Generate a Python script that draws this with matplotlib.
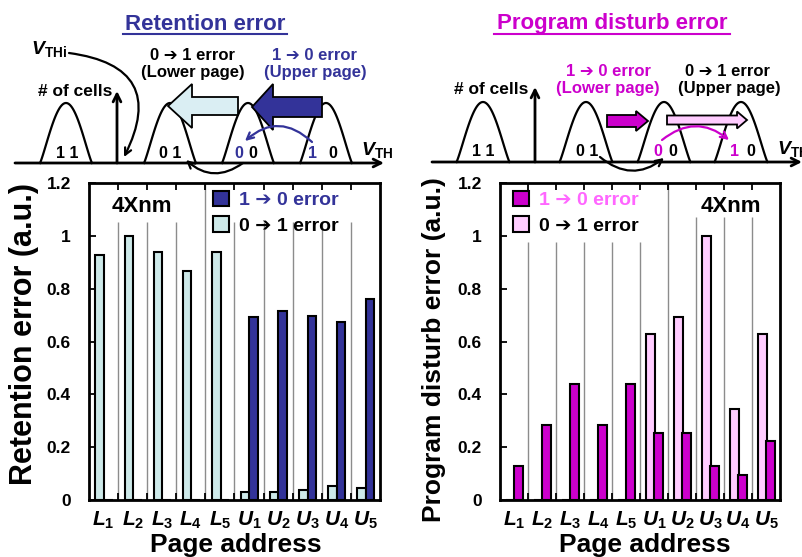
import numpy as np
import matplotlib.pyplot as plt
from matplotlib.patches import Polygon, Patch

plt.rcParams['font.family'] = ['Liberation Sans', 'DejaVu Sans']
plt.rcParams['font.weight'] = 'bold'
plt.rcParams['mathtext.fontset'] = 'custom'
plt.rcParams['mathtext.it'] = 'Liberation Sans:italic:bold'
plt.rcParams['mathtext.rm'] = 'Liberation Sans:bold'
plt.rcParams['mathtext.bf'] = 'Liberation Sans:bold'

# ---- colours ----
NAVY = "#333399"
LIGHT = "#cde9e9"
MAG = "#cc00cc"
PINK = "#ffccff"
PINK_TXT = "#ff66ff"
GRID = "#8c8c8c"
ARR = "\u2794"  # heavy arrow, falls back to DejaVu Sans

# ---- data ----
pages = ["L1", "L2", "L3", "L4", "L5", "U1", "U2", "U3", "U4", "U5"]
page_labels = [r"$L_1$", r"$L_2$", r"$L_3$", r"$L_4$", r"$L_5$",
               r"$U_1$", r"$U_2$", r"$U_3$", r"$U_4$", r"$U_5$"]
ret_1to0 = [0, 0, 0, 0, 0, 0.694, 0.716, 0.698, 0.675, 0.759]
ret_0to1 = [0.926, 1.0, 0.937, 0.865, 0.937, 0.030, 0.030, 0.037, 0.053, 0.045]
pd_1to0 = [0.128, 0.284, 0.440, 0.284, 0.440, 0.252, 0.252, 0.128, 0.096, 0.223]
pd_0to1 = [0, 0, 0, 0, 0, 0.630, 0.693, 1.0, 0.345, 0.630]
yticks = [0, 0.2, 0.4, 0.6, 0.8, 1.0, 1.2]
ytick_labels = ["0", "0.2", "0.4", "0.6", "0.8", "1", "1.2"]

W, H = 803, 557
fig = plt.figure(figsize=(W / 100, H / 100), dpi=100)

# overlay in pixel coordinates for the schematic sketches
ov = fig.add_axes([0, 0, 1, 1])
ov.set_xlim(0, W)
ov.set_ylim(H, 0)
ov.axis('off')


def bell(cx, half, top, base):
    t = np.linspace(-1, 1, 80)
    ov.plot(cx + half * t, base - (base - top) * np.cos(np.pi / 2 * t) ** 1.15,
            color='black', lw=1.6, zorder=2)


def block_arrow(tail, tip, head_base, yc, bh, hh, fc):
    pts = [(tail, yc - bh), (head_base, yc - bh), (head_base, yc - hh), (tip, yc),
           (head_base, yc + hh), (head_base, yc + bh), (tail, yc + bh)]
    ov.add_patch(Polygon(pts, closed=True, fc=fc, ec='black', lw=1.3, zorder=4))


def curve(start, end, rad, color='black'):
    ov.annotate('', xy=end, xytext=start,
                arrowprops=dict(arrowstyle='->', color=color, lw=1.6,
                                connectionstyle=f'arc3,rad={rad}',
                                shrinkA=0, shrinkB=0, mutation_scale=12), zorder=5)


def axis_arrow(x0, y0, x1, y1):
    ov.annotate('', xy=(x1, y1), xytext=(x0, y0),
                arrowprops=dict(arrowstyle='->', color='black', lw=2,
                                shrinkA=0, shrinkB=0, mutation_scale=14))


def txt(x, y, s, color='black', size=12, ha='center', **kw):
    ov.text(x, y, s, color=color, fontsize=size, ha=ha, va='center',
            fontweight='bold', **kw)


# ---- left schematic: retention ----
txt(205, 24, "Retention error", color=NAVY, size=16)
ov.plot([123, 287], [34, 34], color=NAVY, lw=1.5)
axis_arrow(15, 163, 384, 163)
axis_arrow(117, 163, 117, 91)
for cx in [66, 170, 248, 326]:
    bell(cx, 26, 103, 163)
txt(112, 91, "# of cells", ha='right', size=12.5)
txt(31, 49, r"$V_{\mathrm{THi}}$", ha='left', size=14)
txt(361, 150, r"$V_{\mathrm{TH}}$", ha='left', size=14)
txt(67, 153, "1 1", size=11.5)
txt(170, 153, "0 1", size=11.5)
txt(239, 153, "0", color=NAVY, size=11.5)
txt(253, 153, "0", size=11.5)
txt(313, 153, "1", color=NAVY, size=11.5)
txt(333, 153, "0", size=11.5)
txt(193, 55, f"0 {ARR} 1 error", size=12)
txt(193, 73, "(Lower page)", size=12)
txt(315, 55, f"1 {ARR} 0 error", color=NAVY, size=12)
txt(315, 73, "(Upper page)", color=NAVY, size=12)
block_arrow(238, 168, 192, 106, 9, 22, "#daeef3")
block_arrow(322, 252, 273, 107, 10, 23, NAVY)
curve((69, 53), (124, 157), -0.7)
curve((312, 142), (245, 141), 0.45, color=NAVY)
curve((243, 163), (186, 160), -0.4)

# ---- right schematic: program disturb ----
txt(612, 24, "Program disturb error", color=MAG, size=16)
ov.plot([494, 730], [34, 34], color=MAG, lw=1.5)
axis_arrow(432, 162, 802, 162)
axis_arrow(535, 162, 535, 87)
for cx in [483, 586, 664, 741]:
    bell(cx, 26.5, 102, 162)
txt(528, 89, "# of cells", ha='right', size=12.5)
txt(777, 149, r"$V_{\mathrm{TH}}$", ha='left', size=14)
txt(483, 152, "1 1", size=11.5)
txt(587, 152, "0 1", size=11.5)
txt(658, 152, "0", color=MAG, size=11.5)
txt(673, 152, "0", size=11.5)
txt(735, 152, "1", color=MAG, size=11.5)
txt(751, 152, "0", size=11.5)
txt(609, 72, f"1 {ARR} 0 error", color=MAG, size=12)
txt(608, 88, "(Lower page)", color=MAG, size=12)
txt(728, 72, f"0 {ARR} 1 error", size=12)
txt(729, 88, "(Upper page)", size=12)
block_arrow(607, 648, 636, 121, 6, 10, MAG)
block_arrow(667, 747, 737, 120, 4.5, 8.5, PINK)
curve((600, 157), (664, 158), 0.4)
curve((662, 140), (729, 140), -0.4, color=MAG)

# ---- bar charts ----
x = np.arange(len(pages))
bw = 0.3


def bar_panel(rect, v01, v10, c01, c10, grid_tops, legend_x, label_colors, nm_x):
    ax = fig.add_axes(rect)
    ax.bar(x - 0.13, v01, bw, color=c01, edgecolor='black', lw=1.5, zorder=3)
    ax.bar(x + 0.16, v10, bw, color=c10, edgecolor='black', lw=1.5, zorder=3)
    for b, top in zip(np.arange(0.5, 9.5, 1), grid_tops):
        ax.vlines(b, 0, top, color=GRID, lw=1, zorder=1)
    ax.set_xlim(-0.5, 9.5)
    ax.set_ylim(0, 1.2)
    ax.set_xticks(x)
    ax.set_xticklabels(page_labels, fontsize=15)
    ax.set_xticks(np.arange(0.5, 9.5, 1), minor=True)
    ax.tick_params(axis='x', which='major', length=0, pad=7)
    ax.tick_params(axis='x', which='minor', direction='in', length=5, width=1.3,
                   top=True, bottom=True)
    ax.set_yticks(yticks)
    ax.set_yticklabels(ytick_labels, fontsize=12.5, fontweight='bold')
    ax.tick_params(axis='y', direction='in', length=5, width=1.3, pad=13)
    for sp in ax.spines.values():
        sp.set_linewidth(2)
    handles = [Patch(fc=c10, ec='black', lw=1.5), Patch(fc=c01, ec='black', lw=1.5)]
    leg = ax.legend(handles, [f"1 {ARR} 0 error", f"0 {ARR} 1 error"],
                    loc='upper left', bbox_to_anchor=(legend_x, 0.975), frameon=False,
                    fontsize=14, handlelength=0.85, handleheight=0.85,
                    handletextpad=0.5, labelspacing=0.35, borderpad=0, borderaxespad=0)
    for t, c in zip(leg.get_texts(), label_colors):
        t.set_color(c)
        t.set_fontweight('bold')
    ax.text(nm_x, 0.925, "4Xnm", transform=ax.transAxes, ha='center', va='center',
            fontsize=16, fontweight='bold')
    return ax


ax1 = bar_panel([89 / W, 57 / H, 291 / W, 317 / H], ret_0to1, ret_1to0, LIGHT, NAVY,
                [1.054, 1.054, 1.054, 1.2, 1.054, 1.054, 1.054, 1.054, 1.054],
                0.426, [NAVY, 'black'], 0.18)
ax2 = bar_panel([500 / W, 57 / H, 280 / W, 317 / H], pd_0to1, pd_1to0, PINK, MAG,
                [0.977, 0.977, 0.977, 0.977, 0.977, 1.2, 1.073, 1.073, 1.073],
                0.046, [PINK_TXT, 'black'], 0.825)

fig.text(24 / W, 1 - 334 / H, "Retention error (a.u.)", rotation=90, ha='center',
         va='center', fontsize=22, fontweight='bold')
fig.text(434 / W, 1 - 350 / H, "Program disturb error (a.u.)", rotation=90,
         ha='center', va='center', fontsize=19, fontweight='bold')
fig.text(236 / W, 1 - 545 / H, "Page address", ha='center', va='center',
         fontsize=19, fontweight='bold')
fig.text(645 / W, 1 - 545 / H, "Page address", ha='center', va='center',
         fontsize=19, fontweight='bold')

fig.savefig("out.png", dpi=100, facecolor='white')
